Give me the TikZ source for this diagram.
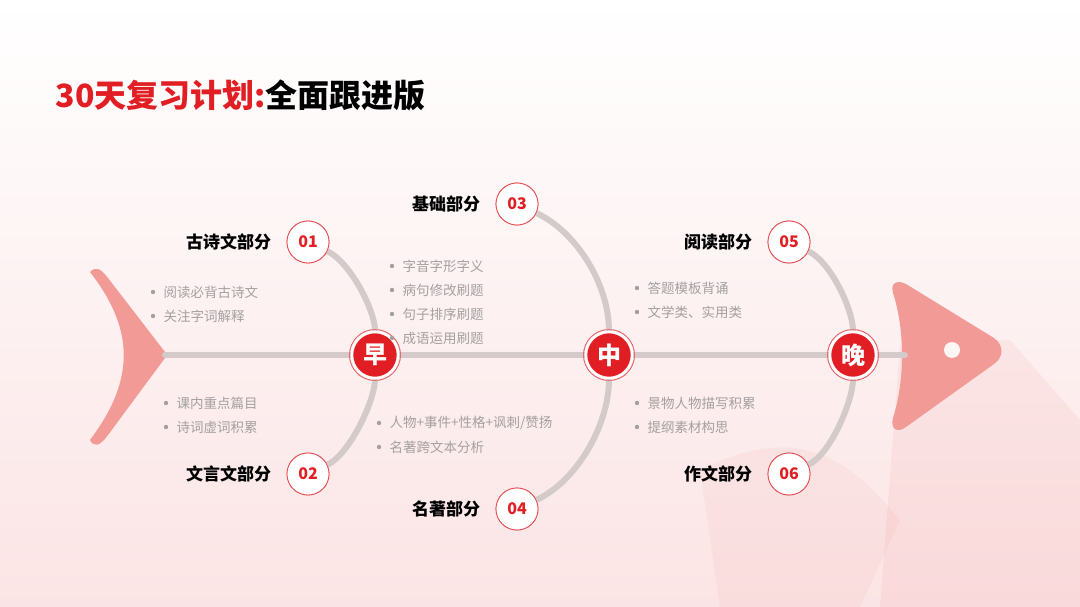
\documentclass[tikz,border=0pt]{standalone}
\usepackage{fontspec}
\newfontfamily\cjk{Noto Sans CJK SC}
\definecolor{fishred}{RGB}{225,30,35}
\definecolor{finpink}{RGB}{242,155,150}
\definecolor{bonegray}{RGB}{212,202,202}
\definecolor{notegray}{RGB}{165,160,160}
\tikzset{
  bone/.style={draw=bonegray,line width=6pt,line cap=round},
  bigdot/.style={circle,fill=fishred,draw=white,line width=2.5pt,minimum size=46pt,inner sep=0pt,
    text=white,font=\cjk\bfseries\fontsize{24}{24}\selectfont,
    append after command={\pgfextra{\draw[fishred!70,line width=0.6pt] (\tikzlastnode) circle (25.5pt);}}},
  numdot/.style={circle,fill=white,draw=fishred!80,line width=0.8pt,minimum size=42pt,inner sep=0pt,
    text=fishred,font=\cjk\bfseries\fontsize{16}{16}\selectfont},
  part/.style={anchor=east,font=\cjk\bfseries\fontsize{17}{17}\selectfont},
  note/.style={anchor=west,text=notegray,font=\cjk\fontsize{13.5}{13.5}\selectfont}
}
\newcommand{\notes}[3]{% x, y, list
  \foreach \t [count=\i] in {#3}{
    \fill[notegray] (#1,#2+24*\i-24) circle (2.2pt);
    \node[note] at (#1+7,#2+24*\i-24) {\t};}}
\begin{document}
\begin{tikzpicture}[x=1pt,y=-1pt]
\shade[top color=white,bottom color=fishred!12] (0,0) rectangle (1080,607);
\useasboundingbox (0,0) rectangle (1080,607);
% faint background shapes
\fill[fishred,opacity=0.05] (900,345) -- (1010,340) -- (1080,420) -- (1080,607) -- (880,607) -- cycle;
\fill[fishred,opacity=0.04] (700,470) .. controls (800,420) and (850,460) .. (900,520) -- (860,607) -- (720,607) -- cycle;
% title
\node[anchor=west,font=\cjk\bfseries\fontsize{32}{32}\selectfont] (title) at (52,95)
  {\textcolor{fishred}{30天复习计划:}全面跟进版};
% tail and head
\fill[finpink] (90,272) .. controls (96,266) and (100,268) .. (108,278) -- (165,352)
  -- (165,358) -- (108,435) .. controls (100,446) and (94,448) .. (90,440)
  .. controls (135,380) and (135,330) .. cycle;
\fill[finpink] (893,293) .. controls (890,282) and (898,280) .. (906,284) -- (994,338)
  .. controls (1004,345) and (1004,357) .. (994,364) -- (906,427)
  .. controls (898,433) and (890,430) .. (893,418) .. controls (905,380) and (905,330) .. cycle;
\fill[white!90!finpink] (952,350) circle (8pt);
% spine
\coordinate (tail) at (165,355);
\coordinate (head) at (905,355);
\draw[bone] (tail) -- (head);
% nodes
\node[bigdot] (zao) at (375,355) {早};
\node[bigdot] (zhong) at (609,355) {中};
\node[bigdot] (wan) at (853,355) {晚};
\node[numdot] (n1) at (308,242) {01};
\node[numdot] (n2) at (308,474) {02};
\node[numdot] (n3) at (517,204) {03};
\node[numdot] (n4) at (517,509) {04};
\node[numdot] (n5) at (789,242) {05};
\node[numdot] (n6) at (789,474) {06};
% bones
\foreach \a/\b/\s in {n1/zao/1,n5/wan/1,n2/zao/-1,n6/wan/-1}{
  \draw[bone] (\a) .. controls +(42,20*\s) and +(0,-45*\s) .. (\b);}
\foreach \a/\b/\s in {n3/zhong/1,n4/zhong/-1}{
  \draw[bone] (\a) .. controls +(60,28*\s) and +(0,-70*\s) .. (\b);}
% redraw dots over bones
\foreach \p/\t in {{(375,355)}/早,{(609,355)}/中,{(853,355)}/晚}
  \node[bigdot] at \p {\t};
\foreach \p/\t in {{(308,242)}/01,{(308,474)}/02,{(517,204)}/03,{(517,509)}/04,{(789,242)}/05,{(789,474)}/06}
  \node[numdot] at \p {\t};
% labels
\node[part] (p1) at (n1.west) [xshift=-12pt] {古诗文部分};
\node[part] (p2) at (n2.west) [xshift=-12pt] {文言文部分};
\node[part] (p3) at (n3.west) [xshift=-12pt] {基础部分};
\node[part] (p4) at (n4.west) [xshift=-12pt] {名著部分};
\node[part] (p5) at (n5.west) [xshift=-12pt] {阅读部分};
\node[part] (p6) at (n6.west) [xshift=-12pt] {作文部分};
% notes
\notes{153}{292}{阅读必背古诗文,关注字词解释}
\notes{166}{403}{课内重点篇目,诗词虚词积累}
\notes{392}{266}{字音字形字义,病句修改刷题,句子排序刷题,成语运用刷题}
\notes{379}{423}{人物+事件+性格+讽刺/赞扬,名著跨文本分析}
\notes{637}{288}{答题模板背诵,文学类、实用类}
\notes{637}{403}{景物人物描写积累,提纲素材构思}
\end{tikzpicture}
\end{document}
